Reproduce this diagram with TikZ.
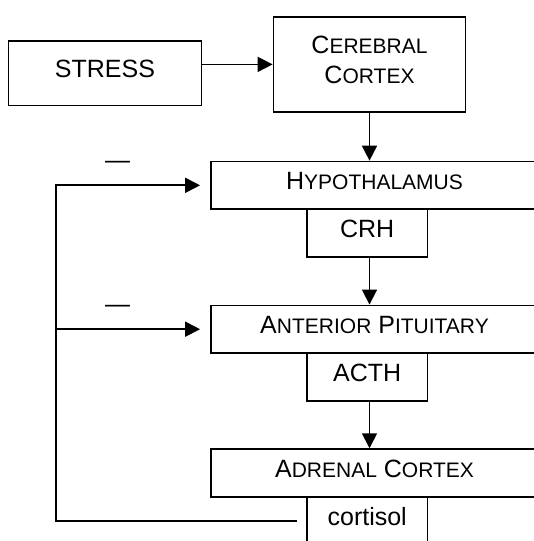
\documentclass[tikz,border=0pt]{standalone}
\usepackage{fontspec}
\setmainfont{Liberation Sans}
\usetikzlibrary{arrows.meta}

% small caps by hand: big first letter, smaller capitals after it
\newcommand{\fsc}[2]{#1{\fontsize{21}{25}\selectfont #2}}

\tikzset{
  box/.style={draw, line width=1.8pt, inner sep=0pt, font=\fontsize{25}{30}\selectfont,
    text height=18pt, text depth=9.5pt},
  widebox/.style={box, minimum width=327pt, minimum height=47.5pt},
  smallbox/.style={box, minimum width=120.5pt, minimum height=48pt},
  link/.style={line width=1.8pt, -{Triangle[length=15pt, width=15pt]}},
  minus/.style={font=\fontsize{25}{30}\selectfont, inner sep=0pt, anchor=base},
}

\begin{document}
\begin{tikzpicture}[x=1pt, y=-1pt]
  \useasboundingbox (0,0) rectangle (534,541);
  \clip (0,0) rectangle (534,541);

  % Top row
  \node[box, minimum width=193pt, minimum height=64.5pt] (stress) at (105,73.2) {STRESS};
  \node[box, minimum width=192pt, minimum height=95.3pt, align=center,
    text height=48.3pt, text depth=11pt]
    (cortex) at (369.5,64.4) {\fsc{C}{EREBRAL}\\\fsc{C}{ORTEX}};

  % Glands and their hormones
  \node[widebox] (hypo) at (374.5,185.3) {\fsc{H}{YPOTHALAMUS}};
  \node[smallbox] (crh) at (367.2,233.2) {CRH};
  \node[widebox] (ap) at (374.5,329.2) {\fsc{A}{NTERIOR} \fsc{P}{ITUITARY}};
  \node[smallbox] (acth) at (367.2,377.2) {ACTH};
  \node[widebox] (adrenal) at (374.5,472.9) {\fsc{A}{DRENAL} \fsc{C}{ORTEX}};
  \node[smallbox] (cortisol) at (367.2,520.9) {cortisol};

  % Arrows down the axis
  \draw[link] (stress.east |- cortex.west) -- (cortex.west);
  \draw[link] (cortex.south) -- (hypo.north -| cortex.south);
  \draw[link] (crh.south -| cortex.south) -- (ap.north -| cortex.south);
  \draw[link] (acth.south -| cortex.south) -- (adrenal.north -| cortex.south);

  % Negative feedback
  \coordinate (loop) at ([xshift=-250pt]cortisol.west);
  \draw[link, shorten <=9pt, shorten >=10pt] (cortisol.west) -- (loop) |- (hypo.west);
  \draw[link, shorten >=10pt] (loop |- ap.west) -- (ap.west);
  \foreach \n/\y in {hypo/168, ap/312} {
    \node[minus] (minus-\n) at (117.5,\y) {—};
  }
\end{tikzpicture}
\end{document}
